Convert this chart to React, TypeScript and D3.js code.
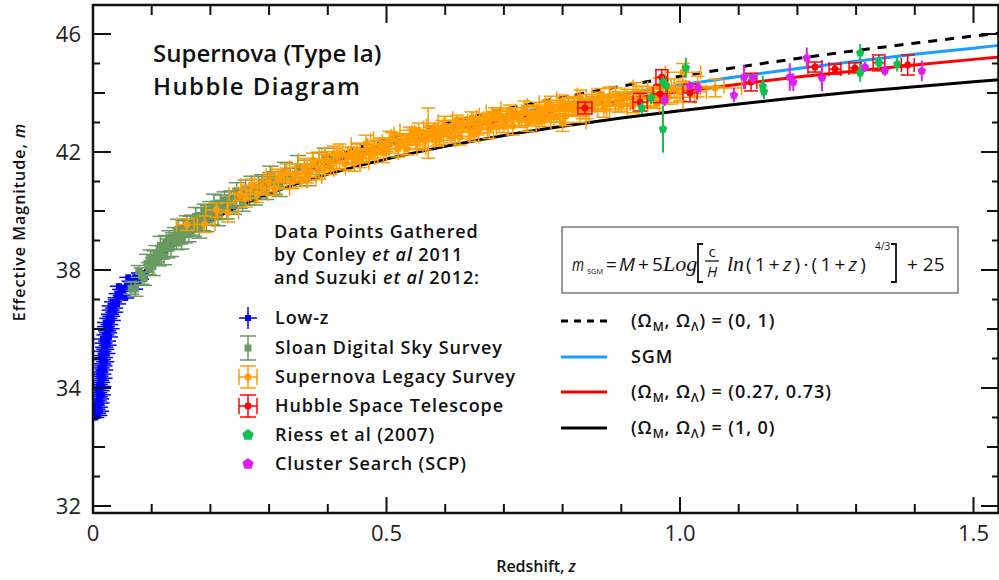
import React from "react";
import * as d3 from "d3";

// ---------- data ----------
const xMajorTicks = [0, 0.5, 1.0, 1.5];
const xMajorLabels = ["0", "0.5", "1.0", "1.5"];
const xMinorTicks = [0.1, 0.2, 0.3, 0.4, 0.6, 0.7, 0.8, 0.9, 1.1, 1.2, 1.3, 1.4];
const yTicks = [30, 31, 32, 33, 34, 35, 36, 37, 38, 39, 40, 41, 42, 43, 44, 45, 46];
const yLabelValues = [30, 34, 38, 42, 46];
const yLabels = ["32", "34", "38", "42", "46"];

// model curves
const curveZ = [0.07, 0.1, 0.15, 0.2, 0.3, 0.4, 0.5, 0.6, 0.7, 0.8, 0.9, 1.0, 1.1, 1.2, 1.3, 1.4, 1.5, 1.55];
const curveDeSitter = [37.43, 38.27, 39.24, 39.96, 41.02, 41.8, 42.44, 42.97, 43.44, 43.85, 44.23, 44.57, 44.88, 45.17, 45.44, 45.69, 45.93, 46.04];
const curveSGM = [37.41, 38.23, 39.19, 39.89, 40.91, 41.67, 42.27, 42.78, 43.22, 43.61, 43.96, 44.27, 44.56, 44.83, 45.08, 45.31, 45.52, 45.63];
const curveLCDM = [37.4, 38.22, 39.18, 39.87, 40.87, 41.61, 42.19, 42.67, 43.08, 43.44, 43.76, 44.04, 44.3, 44.54, 44.75, 44.95, 45.14, 45.23];
const curveEdS = [37.32, 38.11, 39.02, 39.66, 40.58, 41.25, 41.76, 42.19, 42.56, 42.87, 43.15, 43.4, 43.63, 43.84, 44.04, 44.21, 44.38, 44.46];

// Low-z: [z, m]
const lowZ: number[][] = [
  [0.004, 33.0], [0.009, 33.07], [0.007, 33.14], [0.012, 33.21], [0.006, 33.28], [0.01, 33.35], [0.005, 33.42],
  [0.013, 33.49], [0.008, 33.56], [0.012, 33.63], [0.01, 33.7], [0.015, 33.77], [0.009, 33.84], [0.013, 33.91],
  [0.008, 33.98], [0.016, 34.05], [0.01, 34.12], [0.014, 34.19], [0.012, 34.26], [0.018, 34.33], [0.011, 34.4],
  [0.016, 34.47], [0.011, 34.54], [0.019, 34.61], [0.013, 34.68], [0.018, 34.75], [0.016, 34.82], [0.021, 34.89],
  [0.015, 34.96], [0.019, 35.03], [0.014, 35.1], [0.023, 35.17], [0.016, 35.24], [0.021, 35.31], [0.019, 35.38],
  [0.025, 35.45], [0.018, 35.52], [0.024, 35.59], [0.017, 35.66], [0.027, 35.73], [0.021, 35.8], [0.026, 35.87],
  [0.024, 35.94], [0.03, 36.01], [0.022, 36.08], [0.028, 36.15], [0.022, 36.22], [0.032, 36.29], [0.026, 36.36],
  [0.031, 36.43], [0.029, 36.5], [0.036, 36.57], [0.03, 36.64], [0.036, 36.71], [0.03, 36.78], [0.041, 36.85],
  [0.034, 36.92], [0.041, 36.99], [0.04, 37.06], [0.049, 37.13], [0.042, 37.2], [0.051, 37.27], [0.048, 37.34],
  [0.062, 37.41], [0.058, 37.48], [0.068, 37.55], [0.064, 37.62], [0.08, 37.69], [0.072, 37.76], [0.088, 37.83],
  [0.08, 37.9], [0.044, 37.45], [0.055, 37.05], [0.06, 37.75], [0.07, 37.35],
];

// SDSS: [z, m, errM]
const sdss: number[][] = [
  [0.065, 37.38, 0.2], [0.072, 37.36, 0.25], [0.078, 37.95, 0.2], [0.083, 37.79, 0.28], [0.087, 37.7, 0.22],
  [0.092, 38.23, 0.3], [0.095, 38.05, 0.2], [0.098, 38.42, 0.26], [0.102, 38.11, 0.3], [0.105, 38.43, 0.22],
  [0.108, 38.55, 0.28], [0.112, 38.38, 0.24], [0.115, 38.84, 0.3], [0.118, 38.6, 0.22], [0.121, 38.46, 0.28],
  [0.124, 38.92, 0.25], [0.127, 38.73, 0.32], [0.13, 39.09, 0.24], [0.133, 38.74, 0.28], [0.136, 39.04, 0.22],
  [0.139, 39.14, 0.3], [0.142, 38.94, 0.25], [0.145, 39.39, 0.33], [0.148, 39.14, 0.26], [0.151, 38.99, 0.28],
  [0.154, 39.43, 0.24], [0.157, 39.23, 0.31], [0.16, 39.57, 0.27], [0.163, 39.21, 0.25], [0.166, 39.5, 0.32],
  [0.169, 39.59, 0.27], [0.172, 39.38, 0.24], [0.175, 39.82, 0.3], [0.178, 39.57, 0.27], [0.181, 39.41, 0.33],
  [0.184, 39.85, 0.26], [0.187, 39.64, 0.3], [0.19, 39.98, 0.25], [0.193, 39.62, 0.32], [0.196, 39.91, 0.27],
  [0.2, 40.02, 0.3], [0.203, 39.8, 0.26], [0.206, 40.24, 0.33], [0.21, 39.98, 0.27], [0.213, 39.81, 0.31],
  [0.217, 40.26, 0.28], [0.22, 40.04, 0.32], [0.224, 40.38, 0.27], [0.228, 40.03, 0.3], [0.232, 40.32, 0.34],
  [0.236, 40.41, 0.27], [0.24, 40.21, 0.32], [0.245, 40.66, 0.3], [0.25, 40.42, 0.33], [0.255, 40.26, 0.27],
  [0.26, 40.71, 0.34], [0.265, 40.51, 0.3], [0.27, 40.85, 0.33], [0.276, 40.5, 0.3], [0.282, 40.81, 0.36],
  [0.288, 40.91, 0.32], [0.295, 40.73, 0.34], [0.302, 41.19, 0.33], [0.31, 40.95, 0.38], [0.318, 40.82, 0.33],
  [0.327, 41.29, 0.36], [0.336, 41.11, 0.34], [0.349, 41.5, 0.38], [0.365, 41.22, 0.36], [0.385, 41.61, 0.38],
  [0.395, 41.8, 0.33],
];

// SNLS: [z, m, errZ, errM]
const snls: number[][] = [
  [0.16, 39.54, 0.018, 0.2], [0.19, 39.55, 0.018, 0.28], [0.21, 40.03, 0.018, 0.24], [0.23, 39.95, 0.018, 0.32],
  [0.25, 40.57, 0.018, 0.22], [0.26, 40.43, 0.018, 0.3], [0.27, 40.88, 0.018, 0.2], [0.28, 40.57, 0.018, 0.28],
  [0.29, 40.78, 0.018, 0.24], [0.3, 40.97, 0.025, 0.32], [0.31, 40.75, 0.025, 0.22], [0.315, 41.11, 0.025, 0.3],
  [0.32, 41.21, 0.025, 0.2], [0.33, 41.32, 0.025, 0.28], [0.34, 41.0, 0.025, 0.24], [0.345, 41.27, 0.025, 0.32],
  [0.355, 41.05, 0.025, 0.22], [0.36, 41.48, 0.025, 0.3], [0.365, 41.15, 0.025, 0.2], [0.37, 41.32, 0.025, 0.28],
  [0.375, 41.72, 0.025, 0.24], [0.385, 41.39, 0.025, 0.32], [0.39, 41.54, 0.025, 0.22], [0.4, 41.71, 0.025, 0.3],
  [0.405, 41.44, 0.025, 0.2], [0.41, 41.92, 0.025, 0.28], [0.415, 41.88, 0.025, 0.24], [0.42, 41.95, 0.025, 0.32],
  [0.43, 41.61, 0.025, 0.22], [0.435, 41.87, 0.025, 0.3], [0.44, 41.95, 0.025, 0.2], [0.445, 41.63, 0.025, 0.28],
  [0.45, 42.06, 0.025, 0.24], [0.455, 41.79, 0.025, 0.32], [0.46, 41.89, 0.025, 0.22], [0.465, 42.27, 0.025, 0.3],
  [0.475, 41.93, 0.025, 0.2], [0.48, 42.08, 0.025, 0.28], [0.49, 42.23, 0.025, 0.24], [0.495, 41.96, 0.025, 0.32],
  [0.5, 42.24, 0.032, 0.22], [0.505, 42.4, 0.032, 0.3], [0.51, 42.46, 0.032, 0.2], [0.52, 42.11, 0.032, 0.28],
  [0.525, 42.37, 0.032, 0.24], [0.53, 42.24, 0.032, 0.32], [0.535, 42.12, 0.032, 0.22], [0.54, 42.54, 0.032, 0.3],
  [0.545, 42.62, 0.032, 0.2], [0.55, 42.36, 0.032, 0.28], [0.555, 42.74, 0.032, 0.24], [0.565, 42.39, 0.032, 0.32],
  [0.571, 42.64, 0.032, 0.85], [0.575, 42.68, 0.032, 0.22], [0.58, 42.68, 0.032, 0.3], [0.585, 42.4, 0.032, 0.2],
  [0.59, 42.53, 0.032, 0.28], [0.595, 42.83, 0.032, 0.24], [0.6, 42.89, 0.032, 0.32], [0.61, 42.53, 0.032, 0.22],
  [0.615, 42.78, 0.032, 0.3], [0.62, 43.05, 0.032, 0.2], [0.625, 42.52, 0.032, 0.28], [0.63, 42.94, 0.032, 0.24],
  [0.64, 42.76, 0.032, 0.32], [0.645, 43.14, 0.032, 0.22], [0.65, 42.66, 0.032, 0.3], [0.655, 42.78, 0.032, 0.2],
  [0.66, 42.92, 0.032, 0.28], [0.67, 43.06, 0.032, 0.24], [0.675, 42.78, 0.032, 0.32], [0.68, 43.12, 0.032, 0.22],
  [0.685, 43.2, 0.032, 0.3], [0.69, 43.26, 0.032, 0.2], [0.695, 43.11, 0.032, 0.28], [0.7, 42.9, 0.04, 0.24],
  [0.705, 43.15, 0.04, 0.32], [0.71, 43.37, 0.04, 0.22], [0.715, 42.88, 0.04, 0.3], [0.72, 43.3, 0.04, 0.2],
  [0.73, 43.11, 0.04, 0.28], [0.735, 43.49, 0.04, 0.24], [0.74, 43.02, 0.04, 0.32], [0.745, 43.12, 0.04, 0.22],
  [0.75, 43.26, 0.04, 0.3], [0.755, 43.16, 0.04, 0.2], [0.76, 43.4, 0.04, 0.28], [0.765, 43.11, 0.04, 0.24],
  [0.77, 43.38, 0.04, 0.32], [0.775, 43.53, 0.04, 0.22], [0.78, 43.59, 0.04, 0.3], [0.79, 43.22, 0.04, 0.2],
  [0.795, 43.47, 0.04, 0.28], [0.8, 43.0, 0.04, 0.3], [0.8, 43.69, 0.04, 0.24], [0.805, 43.21, 0.04, 0.32],
  [0.81, 43.62, 0.04, 0.22], [0.815, 43.57, 0.04, 0.3], [0.82, 43.42, 0.04, 0.2], [0.83, 43.82, 0.04, 0.28],
  [0.835, 43.37, 0.04, 0.24], [0.84, 43.45, 0.04, 0.32], [0.85, 43.6, 0.04, 0.22], [0.86, 43.73, 0.04, 0.3],
  [0.865, 43.95, 0.04, 0.2], [0.87, 43.46, 0.04, 0.28], [0.875, 43.63, 0.04, 0.24], [0.88, 43.88, 0.04, 0.32],
  [0.89, 43.95, 0.04, 0.22], [0.895, 43.65, 0.04, 0.3], [0.9, 43.58, 0.045, 0.2], [0.91, 43.84, 0.045, 0.28],
  [0.92, 43.57, 0.045, 0.24], [0.925, 44.03, 0.045, 0.32], [0.935, 44.01, 0.045, 0.22], [0.95, 43.82, 0.045, 0.3],
  [0.96, 43.68, 0.045, 0.2], [0.965, 44.22, 0.045, 0.28], [0.98, 43.86, 0.045, 0.24], [0.99, 44.16, 0.045, 0.32],
  [1.0, 44.04, 0.045, 0.3], [1.005, 44.7, 0.03, 0.3], [1.03, 44.22, 0.045, 0.35], [1.06, 44.17, 0.045, 0.3],
];

// HST: [z, m, errZ, errM]
const hst: number[][] = [
  [0.838, 43.49, 0.012, 0.2], [0.969, 44.54, 0.01, 0.25], [0.966, 43.97, 0.012, 0.3], [0.932, 43.69, 0.012, 0.3],
  [1.017, 44.0, 0.012, 0.3], [1.121, 44.37, 0.01, 0.3], [1.23, 44.88, 0.012, 0.17], [1.264, 44.81, 0.01, 0.17],
  [1.298, 44.85, 0.01, 0.17], [1.339, 45.02, 0.01, 0.27], [1.388, 44.95, 0.011, 0.34],
];

// Riess et al (2007): [z, m, errM]
const riess: number[][] = [
  [1.01, 44.85, 0.34], [0.971, 44.37, 0.2], [0.976, 44.27, 0.25], [0.951, 43.83, 0.2], [0.935, 43.49, 0.2],
  [0.971, 42.78, 0.8], [1.141, 44.23, 0.35], [1.143, 44.05, 0.25], [1.307, 45.36, 0.3], [1.307, 44.68, 0.3],
  [1.339, 45.02, 0.2], [1.37, 44.98, 0.25],
];

// Cluster Search (SCP): [z, m, errM]
const scp: number[][] = [
  [1.092, 43.93, 0.24], [1.109, 44.54, 0.4], [1.124, 44.51, 0.17], [1.187, 44.54, 0.47], [1.193, 44.37, 0.3],
  [1.216, 45.19, 0.35], [1.242, 44.51, 0.45], [1.315, 44.88, 0.17], [1.349, 44.75, 0.17], [1.412, 44.75, 0.35],
  [0.974, 43.76, 0.2], [1.017, 44.24, 0.15], [1.031, 44.17, 0.2],
];

// ---------- style ----------
const FONT = "'Open Sans', 'DejaVu Sans', sans-serif";
const SERIF = "'Liberation Serif', 'DejaVu Serif', serif";
const C_BLUE = "#0000ff";
const C_SDSS = "#6a9a62";
const C_SNLS = "#ff9c00";
const C_HST = "#ff0000";
const C_RIESS = "#12c050";
const C_SCP = "#dd1ff2";
const C_SGM = "#1b9cff";

const X0 = 93, X1 = 999, Y0 = 5, Y1 = 513;
const x = d3.scaleLinear().domain([0, 1]).range([X0, 680]);
const y = d3.scaleLinear().domain([46, 42]).range([34, 152]);

const pentPath = (r: number) =>
  (d3.line()(d3.range(5).map((i) => {
    const a = -Math.PI / 2 + (i * 2 * Math.PI) / 5;
    return [r * Math.cos(a), r * Math.sin(a)] as [number, number];
  })) || "") + "Z";

function ErrXY({ cx, cy, hx, hy, color, cap, marker }: any) {
  return (
    <g stroke={color} strokeWidth={1.5} fill={color}>
      {hx > 0 && <line x1={cx - hx} x2={cx + hx} y1={cy} y2={cy} />}
      {hx > 0 && cap > 0 && <line x1={cx - hx} x2={cx - hx} y1={cy - cap} y2={cy + cap} />}
      {hx > 0 && cap > 0 && <line x1={cx + hx} x2={cx + hx} y1={cy - cap} y2={cy + cap} />}
      {hy > 0 && <line x1={cx} x2={cx} y1={cy - hy} y2={cy + hy} />}
      {hy > 0 && cap > 0 && <line x1={cx - cap} x2={cx + cap} y1={cy - hy} y2={cy - hy} />}
      {hy > 0 && cap > 0 && <line x1={cx - cap} x2={cx + cap} y1={cy + hy} y2={cy + hy} />}
      {marker === "circle" && <circle cx={cx} cy={cy} r={3.5} stroke="none" />}
      {marker === "square" && <rect x={cx - 3.5} y={cy - 3.5} width={7} height={7} stroke="none" />}
      {marker === "sq5" && <rect x={cx - 3} y={cy - 3} width={6} height={6} stroke="none" />}
    </g>
  );
}

const LEG_FONT = { fontFamily: FONT, fontSize: 18, fontWeight: 600, fill: "#111", letterSpacing: 0.9 } as any;

function OmegaLabel({ tx, ty, rhs }: any) {
  return (
    <text x={tx} y={ty} {...LEG_FONT}>
      <tspan>(Ω</tspan>
      <tspan fontSize={12} dy={4}>M</tspan>
      <tspan dy={-4}>, Ω</tspan>
      <tspan fontSize={12} dy={4}>Λ</tspan>
      <tspan dy={-4}>{`) = ${rhs}`}</tspan>
    </text>
  );
}

export default function App() {
  const lineGen = (vals: number[]) =>
    d3.line<number>().x((_, i) => x(curveZ[i])).y((d) => y(d)).curve(d3.curveMonotoneX)(vals) || "";

  const legendItems = [
    { label: "Low-z", kind: "lowz" },
    { label: "Sloan Digital Sky Survey", kind: "sdss" },
    { label: "Supernova Legacy Survey", kind: "snls" },
    { label: "Hubble Space Telescope", kind: "hst" },
    { label: "Riess et al (2007)", kind: "riess" },
    { label: "Cluster Search (SCP)", kind: "scp" },
  ];
  const legYs = [318, 348, 377, 406, 435, 464];

  const legendSymbol = (kind: string, cx: number, cy: number) => {
    switch (kind) {
      case "lowz": return <ErrXY cx={cx} cy={cy} hx={9} hy={11} color={C_BLUE} cap={0} marker="sq5" />;
      case "sdss": return <ErrXY cx={cx} cy={cy} hx={0} hy={12} color={C_SDSS} cap={8} marker="square" />;
      case "snls": return <ErrXY cx={cx} cy={cy} hx={9} hy={11} color={C_SNLS} cap={8} marker="circle" />;
      case "hst": return <ErrXY cx={cx} cy={cy} hx={9} hy={11} color={C_HST} cap={8} marker="circle" />;
      case "riess": return <path d={pentPath(6)} transform={`translate(${cx},${cy})`} fill={C_RIESS} />;
      default: return <path d={pentPath(6)} transform={`translate(${cx},${cy})`} fill={C_SCP} />;
    }
  };

  const px = (v: number) => x(v) - x(0);
  const py = (v: number) => y(46 - v) - y(46);

  return (
    <svg width={999} height={580} style={{ position: "absolute", left: 0, top: 0, background: "#fff" }}>
      <defs>
        <clipPath id="plotclip">
          <rect x={X0} y={Y0} width={X1 - X0} height={Y1 - Y0} />
        </clipPath>
      </defs>

      {/* curves */}
      <g clipPath="url(#plotclip)" fill="none" strokeWidth={3}>
        <path d={lineGen(curveEdS)} stroke="#000" />
        <path d={lineGen(curveLCDM)} stroke="#ff0000" />
        <path d={lineGen(curveSGM)} stroke={C_SGM} />
        <path d={lineGen(curveDeSitter)} stroke="#000" strokeDasharray="9,8" />
      </g>

      {/* data */}
      <g clipPath="url(#plotclip)">
        {lowZ.map((d, i) => (
          <ErrXY key={"l" + i} cx={x(d[0])} cy={y(d[1])} hx={9} hy={py(0.1)} color={C_BLUE} cap={0} marker="sq5" />
        ))}
        {sdss.map((d, i) => (
          <ErrXY key={"s" + i} cx={x(d[0])} cy={y(d[1])} hx={0} hy={py(d[2])} color={C_SDSS} cap={8} marker="square" />
        ))}
        {snls.map((d, i) => (
          <ErrXY key={"n" + i} cx={x(d[0])} cy={y(d[1])} hx={px(d[2])} hy={py(d[3])} color={C_SNLS} cap={7} marker="circle" />
        ))}
        {hst.map((d, i) => (
          <ErrXY key={"h" + i} cx={x(d[0])} cy={y(d[1])} hx={px(d[2])} hy={py(d[3])} color={C_HST} cap={7} marker="circle" />
        ))}
        {riess.map((d, i) => (
          <g key={"r" + i}>
            <line x1={x(d[0])} x2={x(d[0])} y1={y(d[1] - d[2])} y2={y(d[1] + d[2])} stroke={C_RIESS} strokeWidth={2} />
            <path d={pentPath(4.5)} transform={`translate(${x(d[0])},${y(d[1])})`} fill={C_RIESS} />
          </g>
        ))}
        {scp.map((d, i) => (
          <g key={"c" + i}>
            <line x1={x(d[0])} x2={x(d[0])} y1={y(d[1] - d[2])} y2={y(d[1] + d[2])} stroke={C_SCP} strokeWidth={2} />
            <path d={pentPath(4.5)} transform={`translate(${x(d[0])},${y(d[1])})`} fill={C_SCP} />
          </g>
        ))}
      </g>

      {/* axes frame */}
      <g stroke="#111" strokeWidth={2.5} fill="none">
        <line x1={X0} x2={X0} y1={Y0 - 1} y2={Y1 + 1} />
        <line x1={X0} x2={X1} y1={Y1} y2={Y1} />
        <line x1={X0} x2={X1} y1={Y0} y2={Y0} />
        <line x1={X1 - 0.5} x2={X1 - 0.5} y1={Y0} y2={Y1} />
      </g>
      <g stroke="#111" strokeWidth={2}>
        {xMajorTicks.map((t) => (
          <g key={"xm" + t}>
            <line x1={x(t)} x2={x(t)} y1={Y1} y2={Y1 - 16} />
            <line x1={x(t)} x2={x(t)} y1={Y0} y2={Y0 + 18} />
          </g>
        ))}
        {xMinorTicks.map((t) => (
          <g key={"xn" + t}>
            <line x1={x(t)} x2={x(t)} y1={Y1} y2={Y1 - 9} />
            <line x1={x(t)} x2={x(t)} y1={Y0} y2={Y0 + 10} />
          </g>
        ))}
        {yTicks.map((t) => {
          const len = (t - 30) % 4 === 0 ? 18 : (t - 30) % 2 === 0 ? 12 : 7;
          return (
            <g key={"y" + t}>
              <line x1={X0} x2={X0 + len} y1={y(t)} y2={y(t)} />
              <line x1={X1} x2={X1 - len} y1={y(t)} y2={y(t)} />
            </g>
          );
        })}
      </g>
      <g fontFamily={FONT} fontSize={22} fill="#222">
        {xMajorTicks.map((t, i) => (
          <text key={"xl" + t} x={x(t)} y={541} textAnchor="middle">{xMajorLabels[i]}</text>
        ))}
        {yLabelValues.map((t, i) => (
          <text key={"yl" + t} x={81} y={y(t) + 8} textAnchor="end">{yLabels[i]}</text>
        ))}
      </g>

      {/* axis titles */}
      <text x={536} y={572} textAnchor="middle" fontFamily={FONT} fontSize={16} fontWeight={600} fill="#111">
        Redshift, <tspan fontStyle="italic">z</tspan>
      </text>
      <text transform="translate(25,222) rotate(-90)" textAnchor="middle" fontFamily={FONT} fontSize={16} fontWeight={600} fill="#111" letterSpacing={1}>
        Effective Magnitude, <tspan fontStyle="italic">m</tspan>
      </text>

      {/* title */}
      <g fontFamily={FONT} fontSize={24} fontWeight={600} fill="#111">
        <text x={153} y={62}>Supernova (Type Ia)</text>
        <text x={153} y={95} letterSpacing={1.4}>Hubble Diagram</text>
      </g>

      {/* data source note */}
      <g {...LEG_FONT}>
        <text x={274} y={238}>Data Points Gathered</text>
        <text x={274} y={261}>by Conley <tspan fontStyle="italic">et al</tspan> 2011</text>
        <text x={274} y={284}>and Suzuki <tspan fontStyle="italic">et al</tspan> 2012:</text>
      </g>

      {/* data legend */}
      {legendItems.map((it, i) => (
        <g key={it.kind}>
          {legendSymbol(it.kind, 248, legYs[i])}
          <text x={275} y={legYs[i] + 6} {...LEG_FONT}>{it.label}</text>
        </g>
      ))}

      {/* line legend */}
      <g strokeWidth={3} fill="none">
        <line x1={561} x2={607} y1={321} y2={321} stroke="#000" strokeDasharray="7,6" />
        <line x1={561} x2={607} y1={357} y2={357} stroke={C_SGM} />
        <line x1={561} x2={607} y1={392} y2={392} stroke="#ff0000" />
        <line x1={561} x2={607} y1={428} y2={428} stroke="#000" />
      </g>
      <OmegaLabel tx={631} ty={327} rhs="(0, 1)" />
      <text x={631} y={363} {...LEG_FONT}>SGM</text>
      <OmegaLabel tx={631} ty={398} rhs="(0.27, 0.73)" />
      <OmegaLabel tx={631} ty={434} rhs="(1, 0)" />

      {/* equation box */}
      <rect x={562} y={227} width={396} height={66} fill="#fff" stroke="#666" strokeWidth={1.3} />
      <g fill="#111" fontFamily={FONT} fontSize={19}>
        <text x={572} y={271} fontStyle="italic" textLength={12} lengthAdjust="spacingAndGlyphs">m</text>
        <text x={587} y={274} fontSize={8} textLength={16} lengthAdjust="spacingAndGlyphs">SGM</text>
        <text x={606} y={271}>=</text>
        <text x={619} y={271} fontStyle="italic">M</text>
        <text x={638} y={271}>+</text>
        <text x={652} y={271}>5</text>
        <text x={663} y={271} fontFamily={SERIF} fontStyle="italic" fontSize={22}>Log</text>
        <path d="M703,244 L698,244 L698,282 L703,282" stroke="#111" strokeWidth={1.8} fill="none" />
        <text x={712} y={257} textAnchor="middle" fontSize={15}>c</text>
        <line x1={705} x2={719} y1={261} y2={261} stroke="#111" strokeWidth={1.3} />
        <text x={712} y={277} textAnchor="middle" fontSize={15} fontStyle="italic">H</text>
        <text x={727} y={271} fontFamily={SERIF} fontStyle="italic" fontSize={22}>ln</text>
        <text x={746} y={271} letterSpacing={3.2}>(1+<tspan fontStyle="italic">z</tspan>)·(1+<tspan fontStyle="italic">z</tspan>)</text>
        <text x={875} y={250} fontSize={10}>4/3</text>
        <path d="M891,244 L896,244 L896,282 L891,282" stroke="#111" strokeWidth={1.8} fill="none" />
        <text x={907} y={271}>+ 25</text>
      </g>
    </svg>
  );
}
